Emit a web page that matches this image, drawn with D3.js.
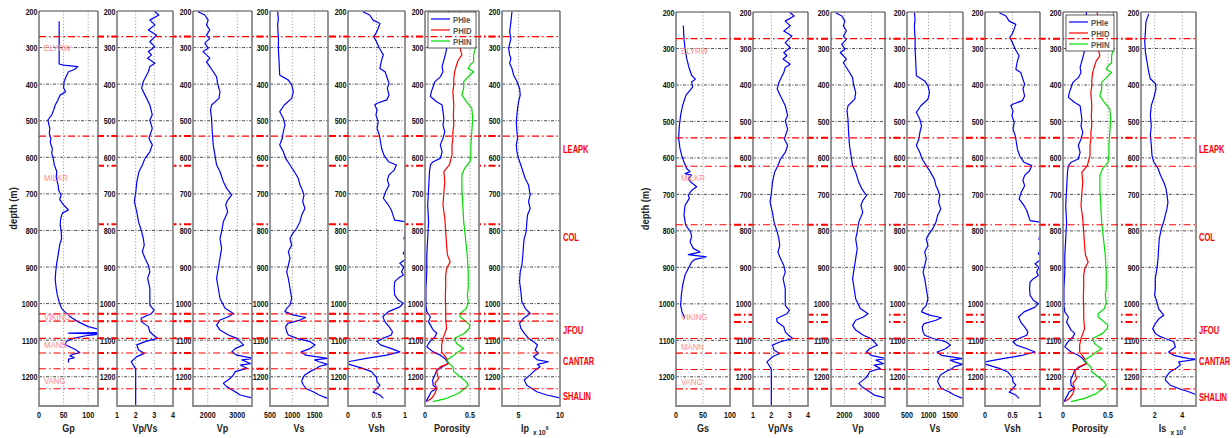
<!DOCTYPE html>
<html>
<head>
<meta charset="utf-8">
<script src="https://cdn.jsdelivr.net/npm/d3@7"></script>
<style>
  body { margin: 0; background: #fff; }
  svg { display: block; }
  text { font-family: "Liberation Sans", Arial, sans-serif; }
</style>
</head>
<body>
<script>
// depth axis
const depthDomain = [200, 1280];
const depthTicks = [200, 300, 400, 500, 600, 700, 800, 900, 1000, 1100, 1200];

// tick labels per track
const gpTicks = [0, 50, 100];
const gsTicks = [0, 50, 100];
const vpvsTicks = [1, 2, 3, 4];
const vpTicks = [2000, 3000];
const vsTicks = [500, 1000, 1500];
const vshTicks = [0, 0.5, 1];
const porTicks = [0, 0.5];
const ipTicks = [5, 10];
const isTicks = [2, 4];

// [depth, value]
const gp = [[229,41],[345,41],[348,50],[352,79],[360,72],[366,60],[380,55],[393,51],[410,50],[421,54],[430,43],[445,38],[457,33],[470,30],[484,26],[498,18],[510,20],[521,22],[535,21],[548,24],[560,23],[576,27],[590,26],[603,29],[620,31],[639,36],[655,35],[676,39],[690,40],[703,45],[715,42],[730,50],[744,60],[752,48],[758,46],[770,44],[785,43],[800,45],[822,46],[840,42],[867,39],[890,36],[913,34],[935,33],[958,35],[975,37],[986,39],[1000,42],[1013,46],[1022,52],[1031,60],[1040,68],[1050,80],[1063,100],[1072,126],[1079,126],[1081,60],[1083,126],[1088,95],[1095,70],[1103,56],[1112,53],[1118,62],[1125,73],[1134,83],[1138,70],[1143,63],[1148,72],[1152,60],[1161,60]];

const gs = [[237,13.6],[273,14.8],[300,16.7],[328,19.8],[355,24.7],[374,29],[384,36],[392,29],[405,30.9],[415,25.9],[428,18.5],[456,12.3],[483,8.6],[511,6.2],[547,4.9],[574,7.4],[593,10.5],[611,14.8],[629,19.8],[638,25.9],[643,16.7],[647,29],[657,22.8],[666,27.2],[679,38.3],[689,29],[702,22.8],[711,24.7],[730,16.7],[757,14.8],[784,18],[803,27],[816,29],[830,25.9],[848,32.1],[858,44.4],[865,22.8],[871,56],[878,35.2],[885,29],[903,22.8],[921,16.7],[949,12.3],[976,9.9],[1004,8.6],[1022,11.1],[1040,16.7]];

const vpvs = [[202,3.03],[211,3.24],[225,2.76],[238,3.03],[252,2.68],[266,3.12],[284,2.76],[298,3.03],[311,2.68],[320,2.85],[329,2.64],[343,3.03],[352,2.76],[366,2.68],[393,2.41],[411,2.32],[430,2.5],[457,2.76],[484,2.89],[498,2.76],[521,2.89],[548,2.71],[566,2.89],[585,2.76],[603,2.5],[621,2.36],[639,2.18],[667,2.06],[694,2.01],[721,1.93],[749,2.06],[776,2.15],[803,2.32],[822,2.41],[840,2.46],[858,2.36],[876,2.5],[895,2.68],[913,2.76],[931,2.64],[958,2.76],[977,2.76],[1004,2.76],[1018,2.99],[1027,2.85],[1040,2.29],[1050,2.32],[1063,2.68],[1077,2.76],[1086,2.94],[1095,3.17],[1104,2.5],[1113,2.06],[1127,2.15],[1136,2.46],[1145,2.06],[1159,1.76],[1173,1.93],[1180,2.0],[1278,2.0]];

const vp = [[202,1671],[211,1900],[225,2014],[238,1957],[252,2071],[266,1957],[275,2071],[288,1900],[302,2014],[311,1843],[320,1957],[329,2071],[339,1957],[352,2071],[366,2186],[380,2300],[398,2334],[421,2414],[439,2380],[457,2129],[471,2094],[494,2129],[530,2151],[566,2186],[594,2243],[621,2300],[639,2414],[667,2529],[685,2643],[703,2814],[717,2677],[730,2609],[749,2677],[776,2529],[803,2471],[822,2414],[849,2471],[876,2414],[904,2357],[931,2300],[958,2357],[986,2414],[1013,2586],[1027,2871],[1036,2700],[1045,2414],[1059,2300],[1072,2414],[1086,2700],[1095,2986],[1104,3100],[1113,3214],[1123,2929],[1132,2814],[1141,2986],[1150,3550],[1154,3157],[1164,3443],[1168,3100],[1177,3329],[1186,2929],[1195,2871],[1205,2757],[1218,2529],[1227,2643],[1241,2929],[1250,3100],[1259,3550]];

const vs = [[202,672],[220,687],[238,672],[257,678],[275,690],[302,687],[329,700],[357,710],[375,717],[389,911],[402,986],[421,1023],[439,986],[457,821],[475,717],[494,799],[512,836],[530,799],[548,776],[566,717],[585,799],[603,851],[621,948],[639,1045],[658,1135],[676,1172],[685,1210],[703,1262],[721,1232],[740,1284],[758,1210],[776,1172],[794,1098],[813,986],[822,948],[840,986],[858,911],[876,948],[895,911],[913,874],[931,911],[958,948],[986,986],[1004,948],[1013,874],[1022,836],[1031,1023],[1038,1300],[1045,1172],[1054,900],[1063,851],[1077,874],[1086,911],[1095,1100],[1104,1400],[1113,1508],[1123,1396],[1132,1200],[1141,1300],[1150,1790],[1154,1500],[1159,1600],[1166,1790],[1172,1600],[1177,1546],[1186,1396],[1195,1280],[1205,1230],[1213,1210],[1222,1247],[1232,1300],[1241,1471],[1250,1600],[1259,1790]];

const vsh = [[202,0.26],[211,0.38],[225,0.44],[234,0.56],[247,0.53],[261,0.49],[270,0.45],[284,0.5],[302,0.55],[320,0.62],[334,0.59],[357,0.56],[366,0.65],[384,0.69],[398,0.72],[411,0.69],[430,0.72],[443,0.68],[453,0.5],[457,0.47],[471,0.51],[484,0.49],[503,0.53],[521,0.51],[539,0.55],[557,0.57],[576,0.59],[594,0.63],[612,0.71],[621,0.85],[635,0.81],[648,0.72],[662,0.69],[676,0.72],[694,0.66],[712,0.62],[731,0.71],[744,0.76],[758,0.79],[772,0.82],[776,1.0],[790,1.05],[822,0.98],[840,1.05],[863,0.97],[875,1.05],[890,0.91],[900,0.98],[913,0.94],[922,0.97],[931,0.88],[940,0.82],[958,0.81],[977,0.82],[990,0.88],[999,0.97],[1009,0.91],[1022,0.71],[1036,0.61],[1050,0.65],[1063,0.72],[1077,0.78],[1086,0.76],[1095,0.61],[1104,0.51],[1113,0.57],[1123,0.76],[1132,0.91],[1141,0.68],[1150,0.32],[1159,0.0],[1166,0.02],[1177,0.26],[1186,0.41],[1202,0.5],[1214,0.51],[1223,0.56],[1233,0.5],[1242,0.44],[1250,0.56],[1259,0.62]];

const phie = [[200,0.26],[250,0.26],[302,0.24],[316,0.23],[334,0.21],[352,0.19],[366,0.2],[380,0.17],[393,0.11],[407,0.09],[421,0.07],[434,0.06],[448,0.13],[457,0.19],[475,0.2],[494,0.21],[512,0.2],[530,0.22],[548,0.2],[566,0.17],[585,0.19],[603,0.17],[612,0.09],[621,0.06],[639,0.05],[685,0.04],[731,0.03],[776,0.04],[822,0.03],[867,0.02],[913,0.02],[958,0.01],[1004,0.01],[1022,0.02],[1036,0.06],[1050,0.04],[1063,0.07],[1072,0.09],[1081,0.13],[1091,0.11],[1100,0.07],[1109,0.04],[1118,0.02],[1132,0.09],[1141,0.17],[1150,0.22],[1164,0.26],[1173,0.19],[1182,0.13],[1195,0.11],[1209,0.085],[1223,0.09],[1232,0.13],[1241,0.07],[1255,0.04],[1268,0.01]];

const phid = [[200,0.38],[250,0.39],[302,0.39],[320,0.41],[334,0.37],[348,0.35],[366,0.33],[384,0.32],[402,0.32],[421,0.31],[439,0.315],[457,0.32],[484,0.315],[512,0.32],[530,0.31],[548,0.31],[566,0.3],[594,0.3],[621,0.27],[639,0.21],[667,0.22],[694,0.21],[731,0.2],[767,0.22],[803,0.23],[840,0.24],[867,0.25],[886,0.28],[904,0.24],[922,0.23],[949,0.23],[986,0.226],[1013,0.23],[1040,0.23],[1068,0.24],[1095,0.2],[1113,0.185],[1132,0.185],[1150,0.24],[1164,0.26],[1173,0.17],[1186,0.13],[1205,0.15],[1218,0.11],[1232,0.13],[1246,0.11],[1259,0.074],[1268,0.02]];

const phin = [[200,0.56],[250,0.56],[302,0.56],[320,0.54],[339,0.54],[348,0.5],[357,0.48],[366,0.54],[375,0.5],[393,0.43],[411,0.43],[430,0.41],[448,0.46],[466,0.52],[494,0.53],[530,0.52],[566,0.51],[594,0.51],[612,0.5],[630,0.44],[648,0.41],[685,0.41],[731,0.42],[776,0.43],[822,0.45],[867,0.47],[913,0.48],[958,0.48],[977,0.47],[995,0.48],[1013,0.46],[1027,0.39],[1036,0.39],[1050,0.46],[1059,0.5],[1068,0.49],[1081,0.44],[1095,0.33],[1109,0.35],[1123,0.43],[1132,0.37],[1145,0.3],[1154,0.24],[1164,0.27],[1173,0.31],[1186,0.32],[1200,0.39],[1214,0.46],[1223,0.48],[1232,0.44],[1246,0.37],[1259,0.24],[1268,0.09]];

const ip = [[202,4.2],[229,4.08],[257,3.92],[275,4.08],[302,3.8],[320,3.92],[329,4.08],[343,3.92],[357,4.2],[375,4.4],[393,4.8],[411,5.12],[430,5.2],[448,5.0],[466,4.88],[484,4.8],[503,4.72],[530,4.8],[548,4.88],[566,4.72],[585,4.8],[603,5.0],[630,5.4],[658,5.8],[676,6.2],[703,6.4],[721,6.2],[740,6.4],[758,6.08],[776,6.0],[803,5.92],[822,5.68],[840,5.6],[867,5.52],[895,5.4],[913,5.2],[940,5.12],[968,5.28],[995,5.4],[1013,5.8],[1027,6.4],[1040,5.6],[1054,5.12],[1068,5.28],[1081,5.68],[1095,6.2],[1104,6.8],[1113,7.28],[1127,7.0],[1136,7.4],[1145,6.8],[1154,7.28],[1159,8.6],[1166,7.28],[1173,7.6],[1182,7.0],[1195,6.4],[1209,5.68],[1223,6.0],[1232,6.6],[1241,7.2],[1250,8.4],[1259,10.2]];

const is = [[205,1.56],[227,1.36],[255,1.32],[282,1.27],[310,1.32],[337,1.44],[364,1.56],[383,1.68],[396,2.04],[410,2.09],[437,1.92],[456,1.75],[483,1.68],[511,1.75],[538,1.68],[565,1.75],[593,1.8],[611,1.92],[629,2.24],[647,2.41],[666,2.65],[684,2.82],[702,2.89],[721,2.96],[739,2.89],[757,2.77],[775,2.65],[794,2.48],[821,2.33],[848,2.28],[876,2.24],[903,2.16],[931,2.04],[958,2.04],[976,1.99],[995,2.16],[1013,2.28],[1031,2.65],[1040,2.33],[1054,2.04],[1068,1.85],[1081,2.04],[1090,2.41],[1095,2.77],[1104,3.38],[1118,3.5],[1132,3.01],[1141,3.38],[1150,4.47],[1152,5.1],[1159,3.74],[1168,3.86],[1175,3.62],[1186,3.13],[1200,2.82],[1209,2.77],[1223,3.13],[1232,3.74],[1241,4.47],[1250,5.1]];

// horizons (depth m)
const horizonsFullA = [270, 542, 1028, 1048, 1095, 1135, 1178, 1233];
const horizonsGapA = [623, 783];
const horizonsFullB = [273, 545, 623, 783, 1095, 1135, 1180, 1233];
const horizonsGapB = [1030, 1050];

// formation names
const innerNames = ['ELYRW', 'MILKR', 'VIKING', 'MANN', 'VANG'];
const innerDepthsA = [300, 655, 1036, 1112, 1210];
const innerDepthsB = [305, 654, 1036, 1117, 1212];
const sideNames = ['LEAPK', 'COL', 'JFOU', 'CANTAR', 'SHALIN'];
const sideDepths = [576, 817, 1072, 1158, 1254];

const W = 1232, H = 438, bottom = 406;
const blue = '#0000ff', red = '#ff0000', green = '#00dd00';

const svg = d3.select('body').append('svg').attr('width', W).attr('height', H);
const defs = svg.append('defs');

const lineGen = (x, y) => d3.line().x(d => x(d[1])).y(d => y(d[0]));

// squeeze text horizontally (the original uses a narrow font)
function place(sel, fx, fy, sx) {
  return sel.attr('transform', (d, i) => `translate(${fx(d, i)},${fy(d, i)}) scale(${sx},1)`);
}

function drawFigure(id, cfg) {
  const y = d3.scaleLinear().domain(depthDomain).range([cfg.top, bottom]);
  const x0 = cfg.lefts[0], x1 = cfg.rights[cfg.rights.length - 1];
  const dash = '7,3,1.5,3';

  // horizons behind the tracks (only gaps show them)
  svg.append('g').selectAll('line')
    .data(cfg.full.concat(cfg.gap))
    .join('line')
    .attr('x1', x0).attr('x2', x1)
    .attr('y1', d => y(d)).attr('y2', d => y(d))
    .attr('stroke', red).attr('stroke-width', 2)
    .attr('stroke-dasharray', dash);

  cfg.panels.forEach((p, i) => {
    const left = cfg.lefts[i], right = cfg.rights[i];
    const x = d3.scaleLinear().domain(p.domain).range([left, right]);
    const g = svg.append('g');
    const cid = `${id}-clip-${i}`;
    defs.append('clipPath').attr('id', cid).append('rect')
      .attr('x', left).attr('y', cfg.top)
      .attr('width', right - left).attr('height', bottom - cfg.top);

    g.append('rect')
      .attr('x', left).attr('y', cfg.top)
      .attr('width', right - left).attr('height', bottom - cfg.top)
      .attr('fill', '#fff');

    // depth grid
    g.append('g').selectAll('line')
      .data(depthTicks.slice(1))
      .join('line')
      .attr('x1', left).attr('x2', right)
      .attr('y1', d => y(d)).attr('y2', d => y(d))
      .attr('stroke', '#222').attr('stroke-width', 0.8)
      .attr('stroke-dasharray', '3,1.5,1,1.5');

    // value grid
    g.append('g').selectAll('line')
      .data(p.grid)
      .join('line')
      .attr('x1', d => x(d)).attr('x2', d => x(d))
      .attr('y1', cfg.top).attr('y2', bottom)
      .attr('stroke', '#888').attr('stroke-width', 0.8)
      .attr('stroke-dasharray', '1.2,2');

    // curves
    const cg = g.append('g').attr('clip-path', `url(#${cid})`);
    p.series.forEach(s => {
      cg.append('path')
        .datum(s.data)
        .attr('d', lineGen(x, y))
        .attr('fill', 'none')
        .attr('stroke', s.color)
        .attr('stroke-width', 1.2)
        .attr('stroke-linejoin', 'round');
    });

    if (p.legend) {
      const lx = left + 3, ly = cfg.top + (id === 'A' ? 1 : 3);
      const lw = right - left - 6, lh = 36;
      const lg = g.append('g');
      lg.append('rect').attr('x', lx).attr('y', ly).attr('width', lw).attr('height', lh)
        .attr('fill', '#fff').attr('stroke', '#333').attr('stroke-width', 0.8);
      p.series.forEach((s, k) => {
        const yy = ly + 7 + k * 11;
        lg.append('line').attr('x1', lx + 3).attr('x2', lx + 22)
          .attr('y1', yy).attr('y2', yy)
          .attr('stroke', s.color).attr('stroke-width', 1.2);
        place(lg.append('text'), () => lx + 25, () => yy + 3.5, 0.82)
          .attr('font-size', 9.5).attr('fill', '#555').attr('font-weight', 'bold')
          .text(s.name);
      });
    }

    // frame
    g.append('path')
      .attr('d', `M${left},${cfg.top}V${bottom}H${right}V${cfg.top}`)
      .attr('fill', 'none').attr('stroke', '#8a8a8a').attr('stroke-width', 1.8);
    g.append('line')
      .attr('x1', left).attr('x2', right)
      .attr('y1', cfg.top).attr('y2', cfg.top)
      .attr('stroke', '#444').attr('stroke-width', 1.2);

    // depth labels
    place(g.append('g').selectAll('text').data(depthTicks).join('text'),
      () => left - 1.5, d => y(d) + 3.5, 0.75)
      .attr('text-anchor', 'end')
      .attr('font-size', 9.5).attr('font-weight', 'bold')
      .attr('fill', '#111')
      .text(d => d);

    // value labels
    place(g.append('g').selectAll('text').data(p.ticks).join('text'),
      d => x(d), () => bottom + 12, 0.75)
      .attr('text-anchor', 'middle')
      .attr('font-size', 9.5).attr('font-weight', 'bold')
      .attr('fill', '#111')
      .text(d => d);

    // title
    const tx = (left + right) / 2 + (p.exp ? -6 : 0);
    place(g.append('text'), () => tx, () => bottom + 26, 0.82)
      .attr('text-anchor', 'middle')
      .attr('font-size', 11).attr('font-weight', 'bold')
      .attr('fill', '#222')
      .text(p.title);
    if (p.exp) {
      const t = place(g.append('text'), () => tx + 8, () => bottom + 29, 0.82)
        .attr('font-size', 8).attr('font-weight', 'bold').attr('fill', '#222');
      t.append('tspan').text('x 10');
      t.append('tspan').attr('dy', -5).attr('font-size', 6).text('6');
    }
  });

  // horizons over the tracks
  svg.append('g').selectAll('line')
    .data(cfg.full)
    .join('line')
    .attr('x1', x0).attr('x2', x1)
    .attr('y1', d => y(d)).attr('y2', d => y(d))
    .attr('stroke', red).attr('stroke-width', 1.1)
    .attr('stroke-dasharray', dash);

  // formation names in first track
  place(svg.append('g').selectAll('text').data(innerNames).join('text'),
    () => x0 + 5, (d, k) => y(cfg.innerDepths[k]) + 3.5, 0.82)
    .attr('font-size', 9.5)
    .attr('fill', '#ff8a8a')
    .text(d => d);

  // formation names on the right
  place(svg.append('g').selectAll('text').data(sideNames).join('text'),
    () => x1 + 3, (d, k) => y(sideDepths[k]) + 4, 0.72)
    .attr('font-size', 10.5).attr('font-weight', 'bold')
    .attr('fill', red)
    .text(d => d);

  // depth title
  svg.append('text')
    .attr('transform', `translate(${x0 - cfg.ylabOff},${(cfg.top + bottom) / 2}) rotate(-90) scale(0.85,1)`)
    .attr('text-anchor', 'middle')
    .attr('font-size', 11).attr('font-weight', 'bold')
    .attr('fill', '#222')
    .text('depth (m)');
}

const commonTracks = [
  { title: 'Vp/Vs', domain: [1, 4], ticks: vpvsTicks, grid: [2, 3], series: [{ data: vpvs, color: blue }] },
  { title: 'Vp', domain: [1500, 3500], ticks: vpTicks, grid: [2000, 3000], series: [{ data: vp, color: blue }] },
  { title: 'Vs', domain: [500, 1800], ticks: vsTicks, grid: [1000, 1500], series: [{ data: vs, color: blue }] },
  { title: 'Vsh', domain: [0, 1], ticks: vshTicks, grid: [0.5], series: [{ data: vsh, color: blue }] },
  { title: 'Porosity', domain: [0, 0.6], ticks: porTicks, grid: [0.5], legend: true,
    series: [{ data: phie, color: blue, name: 'PHIe' }, { data: phid, color: red, name: 'PHID' }, { data: phin, color: green, name: 'PHIN' }] }
];

drawFigure('A', {
  top: 11, ylabOff: 22,
  lefts: [39, 117, 193, 270, 348, 425, 502],
  rights: [98, 173, 252, 328, 405, 479, 560],
  full: horizonsFullA, gap: horizonsGapA,
  innerDepths: innerDepthsA,
  panels: [
    { title: 'Gp', domain: [0, 120], ticks: gpTicks, grid: [50, 100], series: [{ data: gp, color: blue }] },
    ...commonTracks,
    { title: 'Ip', exp: true, domain: [3, 10], ticks: ipTicks, grid: [5], series: [{ data: ip, color: blue }] }
  ]
});

drawFigure('B', {
  top: 12, ylabOff: 27,
  lefts: [676, 753, 831, 907, 985, 1063, 1141],
  rights: [730, 808, 885, 963, 1040, 1117, 1196],
  full: horizonsFullB, gap: horizonsGapB,
  innerDepths: innerDepthsB,
  panels: [
    { title: 'Gs', domain: [0, 100], ticks: gsTicks, grid: [50], series: [{ data: gs, color: blue }] },
    ...commonTracks,
    { title: 'Is', exp: true, domain: [1, 5], ticks: isTicks, grid: [2, 4], series: [{ data: is, color: blue }] }
  ]
});
</script>
</body>
</html>
